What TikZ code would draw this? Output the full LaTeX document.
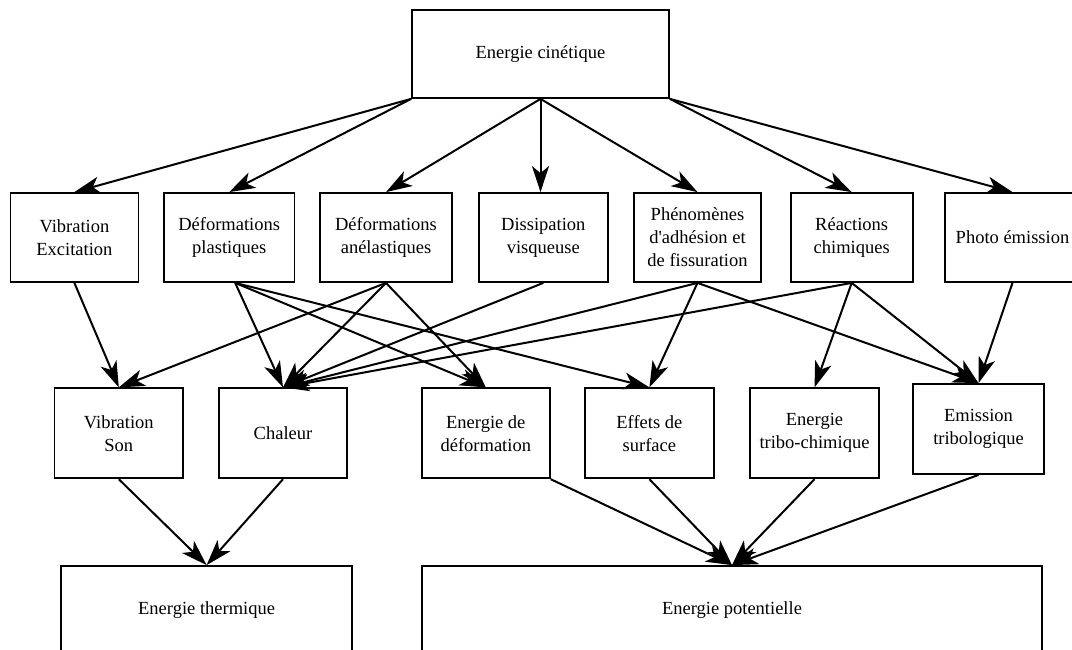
\documentclass[tikz,border=0pt]{standalone}
\usepackage{fontspec}
\setmainfont{Liberation Serif}[Ligatures=TeXOff]
\usetikzlibrary{arrows.meta}

\tikzset{
	box/.style={draw, line width=1.8pt, minimum width=#1, minimum height=89pt, inner sep=0pt, align=center, font=\fontsize{18.5}{23}\selectfont},
	conn/.style={line width=2pt, -{Stealth[length=26pt,width=17pt,inset=7pt]}}
}

\begin{document}
\begin{tikzpicture}[x=1pt,y=-1pt]
	\useasboundingbox (0,0) rectangle (1072,650);
	\node[box=257pt, minimum height=88pt] (cin) at (540.5,54) {Energie cinétique};

	\node[box=128pt] (vibex) at (74.4,237.5) {Vibration\\Excitation};
	\node[box=130.5pt] (defpl) at (229.2,237.5) {Déformations\\plastiques};
	\node[box=131.6pt] (defan) at (386,237.5) {Déformations\\anélastiques};
	\node[box=129.4pt] (diss) at (543.3,237.5) {Dissipation\\visqueuse};
	\node[box=127pt] (phen) at (697.5,237.5) {Phénomènes\\d'adhésion et\\de fissuration};
	\node[box=122pt] (reac) at (851.7,237.5) {Réactions\\chimiques};
	\node[box=135pt] (photo) at (1012.5,237.5) {Photo émission};

	\node[box=128.8pt, minimum height=90pt] (vibson) at (118.8,433.3) {Vibration\\Son};
	\node[box=128pt, minimum height=90pt] (chal) at (283,433.3) {Chaleur};
	\node[box=128pt, minimum height=90pt] (edef) at (485.8,433.3) {Energie de\\déformation};
	\node[box=129.6pt, minimum height=90pt] (effs) at (649.4,433.3) {Effets de\\surface};
	\node[box=129.3pt, minimum height=90pt] (etri) at (814.5,433.3) {Energie\\tribo-chimique};
	\node[box=131pt, minimum height=90pt] (emis) at (978.5,429) {Emission\\tribologique};

	\node[box=290.7pt, minimum height=88pt] (eth) at (206.6,610) {Energie thermique};
	\node[box=620.5pt, minimum height=88pt] (epot) at (732,610) {Energie potentielle};

	\draw[conn] (cin.south west) -- (vibex.north);
	\draw[conn] (cin.south west) -- (defpl.north);
	\draw[conn] (cin.south) -- (defan.north);
	\draw[conn] (cin.south) -- (cin.south |- diss.north);
	\draw[conn] (cin.south) -- (phen.north);
	\draw[conn] (cin.south east) -- (reac.north);
	\draw[conn] (cin.south east) -- (photo.north);

	\draw[conn] (vibex.south) -- (vibson.north);
	\draw[conn] ([xshift=6pt]defpl.south) -- (chal.north);
	\draw[conn] ([xshift=6pt]defpl.south) -- (edef.north);
	\draw[conn] ([xshift=6pt]defpl.south) -- (effs.north);
	\draw[conn] (defan.south) -- (vibson.north);
	\draw[conn] (defan.south) -- (chal.north);
	\draw[conn] (defan.south) -- (edef.north);
	\draw[conn] (diss.south) -- (chal.north);
	\draw[conn] (phen.south) -- (chal.north);
	\draw[conn] (phen.south) -- (effs.north);
	\draw[conn] (phen.south) -- (emis.north);
	\draw[conn] (reac.south) -- (chal.north);
	\draw[conn] (reac.south) -- (etri.north);
	\draw[conn] (reac.south) -- (emis.north);
	\draw[conn] (photo.south) -- (emis.north);

	\draw[conn] (vibson.south) -- (eth.north);
	\draw[conn] (chal.south) -- (eth.north);
	\draw[conn] (edef.south east) -- (epot.north);
	\draw[conn] (effs.south) -- (epot.north);
	\draw[conn] (etri.south) -- (epot.north);
	\draw[conn] (emis.south) -- (epot.north);
\end{tikzpicture}
\end{document}
